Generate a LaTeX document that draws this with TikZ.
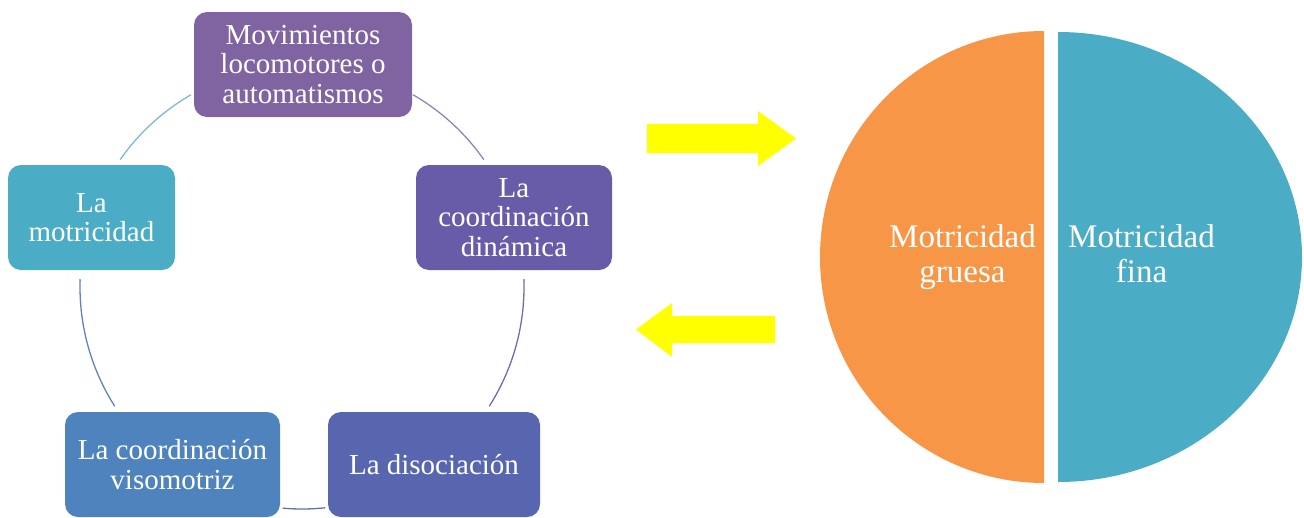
\documentclass[tikz,border=0pt]{standalone}
\usepackage{fontspec}
\setmainfont{Liberation Serif}
\usepackage{xcolor}
\usetikzlibrary{positioning}

\definecolor{cMov}{RGB}{128,100,162}
\definecolor{cDin}{RGB}{104,92,168}
\definecolor{cDis}{RGB}{88,102,176}
\definecolor{cVis}{RGB}{79,131,190}
\definecolor{cMot}{RGB}{75,172,198}
\definecolor{cGru}{RGB}{247,150,70}
\definecolor{cFin}{RGB}{75,172,198}
\definecolor{cFlecha}{RGB}{255,255,0}

\begin{document}
\begin{tikzpicture}[x=1pt,y=-1pt,
    box/.style={rounded corners=13pt,minimum height=105pt,inner sep=1pt,
      align=center,text=white,font=\fontsize{29}{29.5}\selectfont},
    ring/.style={line width=1.3pt},
    pielabel/.style={text=white,align=center,font=\fontsize{33}{35}\selectfont}]
  \useasboundingbox (0,0) rectangle (1304,517);
  % ciclo
  \coordinate (ctr) at (302,287);
  \draw[ring,color={rgb,255:red,125;green,185;blue,210}] ([shift={(120:222pt)}]ctr) arc[start angle=120,end angle=145,radius=222pt];
  \draw[ring,color={rgb,255:red,150;green,130;blue,185}] ([shift={(60:222pt)}]ctr) arc[start angle=60,end angle=35,radius=222pt];
  \draw[ring,color={rgb,255:red,115;green,105;blue,180}] ([shift={(2:222pt)}]ctr) arc[start angle=2,end angle=-32.5,radius=222pt];
  \draw[ring,color={rgb,255:red,100;green,110;blue,185}] ([shift={(-95:222pt)}]ctr) arc[start angle=-95,end angle=-84,radius=222pt];
  \draw[ring,color={rgb,255:red,95;green,130;blue,195}] ([shift={(212.5:222pt)}]ctr) arc[start angle=212.5,end angle=178,radius=222pt];
  \node[box,fill=cMov,minimum width=218pt] (mov) at (303,64.5) {Movimientos\\locomotores o\\automatismos};
  \node[box,fill=cDin,minimum width=196pt] (din) at (514,217.5) {La\\coordinación\\dinámica};
  \node[box,fill=cDis,minimum width=212pt] (dis) at (434,464.5) {La disociación};
  \node[box,fill=cVis,minimum width=215pt] (vis) at (172.5,464.5) {La coordinación\\visomotriz};
  \node[box,fill=cMot,minimum width=167pt] (mot) at (91.5,217.5) {La\\motricidad};
  % flechas
  \fill[cFlecha] (647,124) -- (758,124) -- (758,111) -- (796,138.5) -- (758,166) -- (758,153) -- (647,153) -- cycle;
  \fill[cFlecha] (775,316) -- (672,316) -- (672,303) -- (636,329.5) -- (672,357) -- (672,343) -- (775,343) -- cycle;
  % circulo partido
  \fill[cGru] (1044,31) arc[start angle=90,end angle=270,x radius=224pt,y radius=226pt] -- cycle;
  \fill[cFin] (1058,32) arc[start angle=90,end angle=-90,x radius=244pt,y radius=225pt] -- cycle;
  \node[pielabel] (gruesa) at (962.5,257) {Motricidad\\gruesa};
  \node[pielabel] (fina) at (1141.5,253.5) {Motricidad\\fina};
\end{tikzpicture}
\end{document}
